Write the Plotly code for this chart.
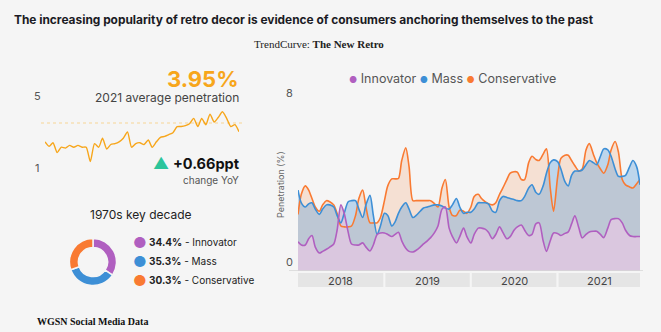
import plotly.graph_objects as go
import pandas as pd

W, H = 661, 332
BG = "#f5f5f5"
PURPLE = "#b05fc0"
BLUE = "#3d8fd6"
ORANGE = "#f97a32"
SPARK = "#f7a61b"

# ---------------- data ----------------
series_names = ["Innovator", "Mass", "Conservative"]
dates = pd.date_range("2018-01-01", periods=96, freq="SMS")
years = [2018, 2019, 2020, 2021]

innovator = [1.38, 1.23, 1.23, 1.53, 1.68, 1.13, 0.85, 0.93, 1.03, 1.13, 1.28, 1.93,
             3.13, 2.73, 1.83, 1.28, 1.23, 1.23, 1.33, 1.13, 0.95, 1.23, 1.73, 1.80,
             1.80, 1.73, 1.63, 1.73, 1.83, 1.43, 1.08, 0.93, 0.90, 0.98, 1.13, 1.28,
             1.43, 1.58, 1.83, 2.13, 2.93, 3.03, 2.03, 1.63, 1.33, 1.63, 2.03, 1.63,
             1.33, 1.73, 2.03, 2.03, 1.98, 1.83, 1.53, 1.73, 2.09, 1.83, 1.53, 1.63,
             1.93, 2.09, 2.18, 1.93, 1.68, 1.73, 2.23, 2.28, 1.43, 0.93, 1.43, 1.80,
             1.78, 1.68, 1.78, 1.85, 2.23, 2.61, 2.03, 1.57, 1.73, 1.85, 1.88, 1.88,
             1.73, 1.58, 2.03, 2.43, 2.48, 2.48, 2.28, 1.93, 1.68, 1.63, 1.63, 1.63]

mass = [3.83, 3.23, 3.03, 3.18, 3.23, 2.93, 2.68, 2.93, 3.13, 3.13, 3.03, 2.63,
        2.28, 2.73, 3.28, 3.33, 3.33, 2.93, 2.53, 3.13, 3.58, 2.63, 1.73, 2.13,
        2.73, 2.63, 2.13, 2.33, 2.73, 3.03, 3.23, 2.93, 2.53, 2.63, 2.83, 2.98,
        3.03, 3.08, 3.13, 3.13, 3.08, 2.98, 2.93, 3.13, 3.43, 3.03, 2.73, 2.78,
        2.78, 2.93, 3.23, 3.23, 3.23, 3.18, 2.83, 2.78, 3.33, 3.53, 3.48, 3.43,
        3.38, 3.33, 3.33, 3.53, 3.93, 4.08, 3.73, 3.63, 4.03, 4.63, 5.13, 5.26,
        5.18, 4.83, 4.23, 4.03, 4.53, 4.73, 4.73, 4.78, 5.03, 5.23, 5.13, 5.03,
        5.43, 5.78, 5.73, 5.43, 4.83, 4.48, 4.48, 4.53, 4.93, 5.23, 4.93, 4.08]

conservative = [2.68, 3.63, 4.03, 3.83, 3.43, 3.03, 2.83, 3.13, 3.33, 3.28, 3.13, 2.73,
                2.13, 2.09, 2.09, 2.13, 2.63, 3.43, 3.83, 3.03, 2.28, 2.28, 2.28, 2.53,
                3.33, 4.03, 4.36, 4.36, 4.38, 5.23, 5.83, 4.93, 3.33, 3.33, 3.33, 3.33,
                3.33, 3.33, 3.18, 3.03, 3.93, 4.33, 3.03, 2.63, 2.63, 2.88, 2.83, 2.73,
                3.03, 3.53, 3.63, 3.43, 3.28, 3.18, 3.13, 3.23, 3.63, 3.93, 4.33, 4.63,
                4.70, 4.68, 4.33, 4.33, 5.13, 5.43, 5.28, 5.23, 5.53, 5.78, 3.93, 2.83,
                4.43, 5.33, 5.48, 5.48, 5.23, 4.98, 4.73, 4.83, 5.73, 6.03, 5.53, 5.13,
                4.83, 4.63, 5.03, 5.73, 6.13, 5.63, 4.33, 4.08, 3.98, 3.93, 4.13, 4.33]

spark_dates = pd.date_range("2018-01-01", periods=48, freq="MS")
spark = [2.90, 2.65, 2.85, 2.30, 2.60, 2.55, 2.70, 2.60, 2.70, 2.60, 2.60, 1.80,
         2.80, 2.60, 3.10, 2.50, 2.75, 2.80, 2.90, 3.10, 3.45, 2.60, 2.80, 2.85,
         2.75, 3.00, 2.60, 2.90, 3.15, 3.20, 3.30, 3.40, 3.74, 3.75, 3.80, 3.90,
         4.20, 3.75, 4.20, 3.85, 4.44, 4.00, 4.25, 4.57, 4.20, 3.75, 3.85, 3.46]
avg_2021 = 3.95
yoy_change = 0.66

decade_shares = [34.4, 35.3, 30.3]

# ---------------- helpers ----------------
def px(x):
    return x / W

def py(y):
    return 1 - y / H

def rgba(hexc, a):
    h = hexc.lstrip("#")
    r, g, b = int(h[0:2], 16), int(h[2:4], 16), int(h[4:6], 16)
    return f"rgba({r},{g},{b},{a})"

def note(x, y, text, size, color="#333", xanchor="center", family=None, **kw):
    f = dict(size=size, color=color)
    if family:
        f["family"] = family
    d = dict(xref="paper", yref="paper", x=px(x), y=py(y), text=text,
             showarrow=False, xanchor=xanchor, yanchor="middle", font=f)
    d.update(kw)
    return d

fig = go.Figure()

# ---------------- main area chart ----------------
colors = {"Innovator": PURPLE, "Mass": BLUE, "Conservative": ORANGE}
values = {"Innovator": innovator, "Mass": mass, "Conservative": conservative}
fills = {"Conservative": rgba(ORANGE, 0.17), "Mass": rgba(BLUE, 0.3),
         "Innovator": "rgba(218,199,223,1)"}
# fills first (behind all lines)
for name in ["Conservative", "Mass", "Innovator"]:
    fig.add_trace(go.Scatter(
        x=dates, y=values[name], mode="lines",
        line=dict(color="rgba(0,0,0,0)", width=0, shape="spline", smoothing=0.8),
        fill="tozeroy", fillcolor=fills[name], hoverinfo="skip",
        showlegend=False, xaxis="x", yaxis="y"))
for name in ["Conservative", "Mass", "Innovator"]:
    fig.add_trace(go.Scatter(
        x=dates, y=values[name], name=name, mode="lines",
        line=dict(color=colors[name], width=1.6, shape="spline", smoothing=0.8),
        showlegend=False, xaxis="x", yaxis="y"))

# ---------------- sparkline ----------------
fig.add_trace(go.Scatter(
    x=spark_dates, y=spark, mode="lines",
    line=dict(color=SPARK, width=1.4, shape="spline", smoothing=0.6),
    showlegend=False, xaxis="x2", yaxis="y2"))

# ---------------- donut ----------------
fig.add_trace(go.Pie(
    values=decade_shares, labels=series_names, hole=0.62, sort=False,
    direction="clockwise", rotation=0,
    marker=dict(colors=[PURPLE, BLUE, ORANGE], line=dict(color=BG, width=1.5)),
    textinfo="none", hoverinfo="label+percent", showlegend=False,
    domain=dict(x=[px(69.5), px(116.5)], y=[py(285.5), py(238.5)])))

fig.update_layout(
    width=W, height=H, margin=dict(l=0, r=0, t=0, b=0),
    paper_bgcolor=BG, plot_bgcolor="rgba(0,0,0,0)",
    font=dict(family="Inter, sans-serif", color="#333"),
    xaxis=dict(domain=[px(298), px(640)], range=[dates[0], dates[-1]],
               showgrid=False, zeroline=False, showticklabels=False, ticks="",
               showline=False),
    yaxis=dict(domain=[py(271), py(102)], range=[0, 8], showgrid=False,
               zeroline=False, showticklabels=False, ticks="", showline=False),
    xaxis2=dict(domain=[px(45), px(239)], range=[spark_dates[0], spark_dates[-1]],
                showgrid=False, zeroline=False, showticklabels=False, ticks="",
                showline=False, anchor="y2"),
    yaxis2=dict(domain=[py(176), py(104)], range=[1, 5], showgrid=False,
                zeroline=False, showticklabels=False, ticks="", showline=False,
                anchor="x2"),
)

shapes = []
annotations = []

# axis baseline
shapes.append(dict(type="line", xref="paper", yref="y", x0=px(289), x1=px(643),
                   y0=0, y1=0, line=dict(color="#d6d6d6", width=1.5), layer="above"))
# year bands
for i, yr in enumerate(years):
    x0 = pd.Timestamp(f"{yr}-01-01") + pd.Timedelta(days=4 if i > 0 else 0)
    x1 = pd.Timestamp(f"{yr}-12-31") - pd.Timedelta(days=4) if i < len(years) - 1 else dates[-1]
    shapes.append(dict(type="rect", xref="x", yref="paper", x0=x0, x1=x1,
                       y0=py(287), y1=py(273), fillcolor="#e5e5e5", line=dict(width=0),
                       layer="below"))
    annotations.append(dict(xref="x", yref="paper",
                            x=x0 + (x1 - x0) / 2, y=py(280.5), text=str(yr),
                            xanchor="center", yanchor="middle",
                            showarrow=False, font=dict(size=11, color="#444")))

# dashed average line on sparkline
shapes.append(dict(type="line", xref="paper", yref="y2", x0=px(41), x1=px(243),
                   y0=avg_2021, y1=avg_2021,
                   line=dict(color="#f6dfb5", width=1.5, dash="dot"), layer="below"))

# y tick labels (placed above their lines)
tick_font = dict(size=11, color="#555")
annotations += [
    dict(xref="paper", yref="y", x=px(289), y=8, yshift=9, text="8", showarrow=False,
         xanchor="center", yanchor="middle", font=tick_font),
    dict(xref="paper", yref="y", x=px(289), y=0, yshift=9, text="0", showarrow=False,
         xanchor="center", yanchor="middle", font=tick_font),
    note(37, 96, "5", 11, "#555"),
    note(37, 168, "1", 11, "#555"),
]

# y axis title
annotations.append(note(280, 185, "Penetration (%)", 9, "#666", textangle=-90))

# main legend
leg = (f'<span style="color:{PURPLE};font-size:9px">●</span> Innovator '
       f'<span style="color:{BLUE};font-size:9px">●</span> Mass '
       f'<span style="color:{ORANGE};font-size:9px">●</span> Conservative')
annotations.append(note(452, 78, leg, 12.5, "#555"))

# title / subtitle / source
annotations += [
    note(12, 19, "<b>The increasing popularity of retro decor is evidence of consumers anchoring themselves to the past</b>",
         11.9, "#1b1b24", xanchor="left"),
    note(319, 44, "TrendCurve: <b>The New Retro</b>", 11, "#222", family="Liberation Serif"),
    note(35, 321, "<b>WGSN Social Media Data</b>", 10, "#111", xanchor="left",
         family="Liberation Serif"),
]

# KPI texts
annotations += [
    note(241, 79, f"<b>{avg_2021:.2f}%</b>", 22, SPARK, xanchor="right"),
    note(241, 97.5, "2021 average penetration", 12, "#444", xanchor="right"),
    note(241, 163, f"<b>+{yoy_change:.2f}ppt</b>", 14.5, "#111", xanchor="right",
         borderpad=0),
    note(161, 163, "▲", 16, "#2bc49b", borderpad=0),
    note(241, 180, "change YoY", 10, "#555", xanchor="right"),
    note(141, 214, "1970s key decade", 12, "#222"),
]

# donut legend
pie_colors = [PURPLE, BLUE, ORANGE]
for i, (n, v) in enumerate(zip(series_names, decade_shares)):
    yy = 242 + i * 19
    annotations.append(note(140, yy, f'<span style="color:{pie_colors[i]}">●</span>', 15))
    annotations.append(note(147, yy, f"<b>{v:.1f}%</b> - {n}", 10, "#222", xanchor="left"))

fig.update_layout(shapes=shapes, annotations=annotations)
fig.write_html("out.html")
